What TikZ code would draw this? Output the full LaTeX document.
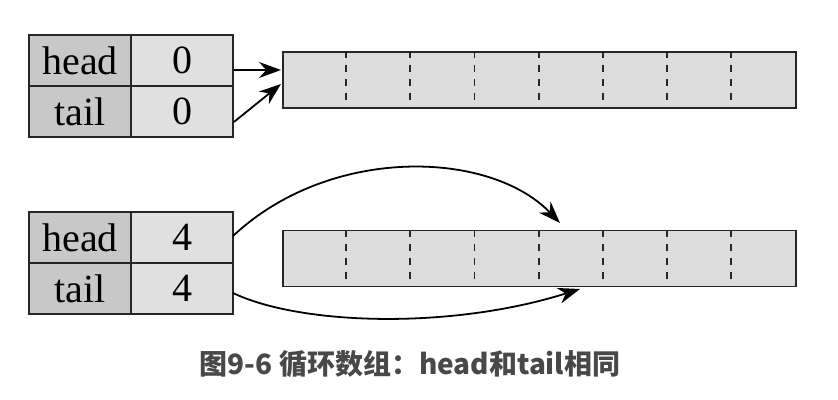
\documentclass[tikz,border=0pt]{standalone}
\usepackage{fontspec}
\setmainfont{Liberation Serif}
\newfontfamily\cjk{Noto Sans CJK SC}
\usetikzlibrary{arrows.meta}
\definecolor{keyfill}{HTML}{C8C8C8}
\definecolor{valfill}{HTML}{E0E0E0}
\definecolor{arrfill}{HTML}{DCDCDC}
\definecolor{captxt}{HTML}{484848}
\begin{document}
\begin{tikzpicture}[x=0.5pt,y=-0.5pt,
  cell/.style={draw=black!85,line width=0.9pt,minimum width=51pt,minimum height=25.5pt,inner sep=0pt,font=\rmfamily\fontsize{20}{20}\selectfont},
  keycell/.style={cell,fill=keyfill},
  valcell/.style={cell,fill=valfill},
  arr/.style={draw=black!85,line width=0.9pt,fill=arrfill,minimum width=256.5pt,minimum height=28pt,inner sep=0pt},
  sep/.style={draw=black!85,line width=0.9pt,dash pattern=on 3.5pt off 3.5pt},
  ptr/.style={line width=0.9pt,-{Stealth[length=11pt,width=8pt]}}]
\useasboundingbox (0,0) rectangle (838,400);
% top
\node[keycell] (h1k) at (80,60.5) {head};
\node[valcell] (h1v) at (182,60.5) {0};
\node[keycell] (t1k) at (80,111.5) {tail};
\node[valcell] (t1v) at (182,111.5) {0};
\node[arr] (a1) at (539.5,80) {};
\foreach \i in {1,...,7} {\draw[sep] ([xshift=\i*32.0625pt]a1.north west) -- ([xshift=\i*32.0625pt]a1.south west);}
\coordinate (a1h) at (281,70);
\coordinate (a1t) at (281,84);
\draw[ptr] ([yshift=-4.75pt]h1v.east) -- (a1h);
\draw[ptr] ([yshift=-5.25pt]t1v.east) -- (a1t);
% bottom
\node[keycell] (h2k) at (80,237.5) {head};
\node[valcell] (h2v) at (182,237.5) {4};
\node[keycell] (t2k) at (80,288.5) {tail};
\node[valcell] (t2v) at (182,288.5) {4};
\node[arr] (a2) at (539.5,258.5) {};
\foreach \i in {1,...,7} {\draw[sep] ([xshift=\i*32.0625pt]a2.north west) -- ([xshift=\i*32.0625pt]a2.south west);}
\coordinate (hs) at (233,236);
\coordinate (he) at (560,223);
\coordinate (ts) at (233,293);
\coordinate (te) at (580,289);
\draw[ptr] (hs) .. controls (330,145) and (490,150) .. (he);
\draw[ptr] (ts) .. controls (300,325) and (450,330) .. (te);
% caption
\node[font=\cjk\bfseries\fontsize{14}{14}\selectfont,text=captxt] (cap) at (410,364) {图9-6 循环数组：head和tail相同};
\end{tikzpicture}
\end{document}
